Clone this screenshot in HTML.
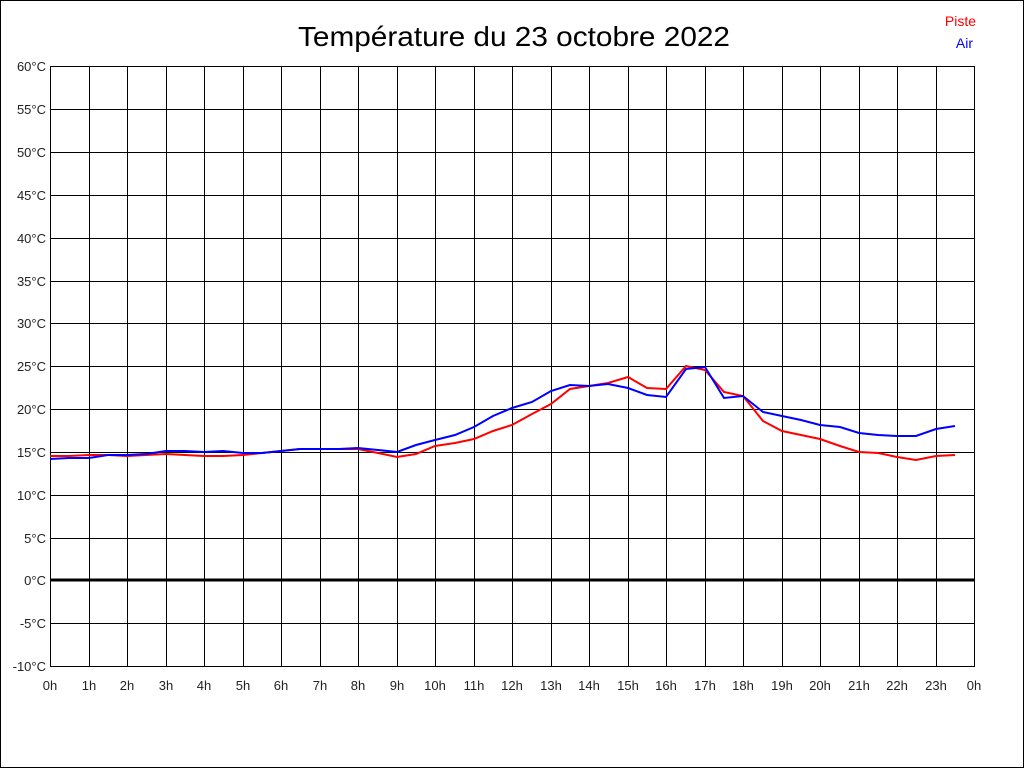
<!DOCTYPE html>
<html><head><meta charset="utf-8"><style>body{margin:0;background:#fff}svg{display:block}</style></head><body>
<svg width="1024" height="768" xmlns="http://www.w3.org/2000/svg" font-family="Liberation Sans, sans-serif">
<rect x="0.5" y="0.5" width="1023" height="767" fill="#fff" stroke="#000"/>
<text x="514" y="46" font-size="28" text-anchor="middle" textLength="432" lengthAdjust="spacingAndGlyphs">Température du 23 octobre 2022</text>
<text x="976" y="26" font-size="14" fill="#f00" text-anchor="end">Piste</text>
<text x="973" y="48" font-size="14" fill="#00f" text-anchor="end">Air</text>
<g stroke="#000" stroke-width="1" shape-rendering="crispEdges">
<path d="M50.5 66V666M89.5 66V666M127.5 66V666M166.5 66V666M204.5 66V666M243.5 66V666M281.5 66V666M320.5 66V666M358.5 66V666M397.5 66V666M435.5 66V666M474.5 66V666M512.5 66V666M551.5 66V666M589.5 66V666M628.5 66V666M666.5 66V666M705.5 66V666M743.5 66V666M782.5 66V666M820.5 66V666M859.5 66V666M897.5 66V666M936.5 66V666M974.5 66V666"/>
<path d="M50 66.5H975M50 109.5H975M50 152.5H975M50 195.5H975M50 238.5H975M50 281.5H975M50 323.5H975M50 366.5H975M50 409.5H975M50 452.5H975M50 495.5H975M50 538.5H975M50 623.5H975M50 666.5H975"/>
<path d="M50 580H975" stroke-width="3"/>
</g>
<g font-size="13" fill="#222" text-anchor="end">
<text x="46" y="71">60°C</text><text x="46" y="114">55°C</text><text x="46" y="157">50°C</text><text x="46" y="200">45°C</text><text x="46" y="243">40°C</text><text x="46" y="286">35°C</text><text x="46" y="328">30°C</text><text x="46" y="371">25°C</text><text x="46" y="414">20°C</text><text x="46" y="457">15°C</text><text x="46" y="500">10°C</text><text x="46" y="543">5°C</text><text x="46" y="585">0°C</text><text x="46" y="628">-5°C</text><text x="46" y="671">-10°C</text>
</g>
<g font-size="13" fill="#222" text-anchor="middle">
<text x="50" y="690">0h</text><text x="89" y="690">1h</text><text x="127" y="690">2h</text><text x="166" y="690">3h</text><text x="204" y="690">4h</text><text x="243" y="690">5h</text><text x="281" y="690">6h</text><text x="320" y="690">7h</text><text x="358" y="690">8h</text><text x="397" y="690">9h</text><text x="435" y="690">10h</text><text x="474" y="690">11h</text><text x="512" y="690">12h</text><text x="551" y="690">13h</text><text x="589" y="690">14h</text><text x="628" y="690">15h</text><text x="666" y="690">16h</text><text x="705" y="690">17h</text><text x="743" y="690">18h</text><text x="782" y="690">19h</text><text x="820" y="690">20h</text><text x="859" y="690">21h</text><text x="897" y="690">22h</text><text x="936" y="690">23h</text><text x="974" y="690">0h</text>
</g>
<polyline fill="none" stroke="#f00" stroke-width="2" points="50,456 69,456 89,455 108,455 127,456 146,455 166,454 185,455 204,456 223,456 243,455 262,453 281,451 300,449 320,449 339,449 358,449 378,453 397,457 416,454 435,446 455,443 474,439 493,431 512,425 532,414 551,404 570,389 589,386 608,383 628,377 647,388 666,389 686,366 705,370 724,392 743,396 763,421 782,431 801,435 820,439 840,446 859,452 878,453 897,457 916,460 936,456 955,455"/>
<polyline fill="none" stroke="#00f" stroke-width="2" points="50,459 69,458 89,458 108,455 127,455 146,454 166,451 185,451 204,452 223,451 243,453 262,453 281,451 300,449 320,449 339,449 358,448 378,450 397,452 416,445 435,440 455,435 474,427 493,416 512,408 532,402 551,391 570,385 589,386 608,384 628,388 647,395 666,397 686,369 705,367 724,398 743,396 763,412 782,416 801,420 820,425 840,427 859,433 878,435 897,436 916,436 936,429 955,426"/>
</svg>
</body></html>
